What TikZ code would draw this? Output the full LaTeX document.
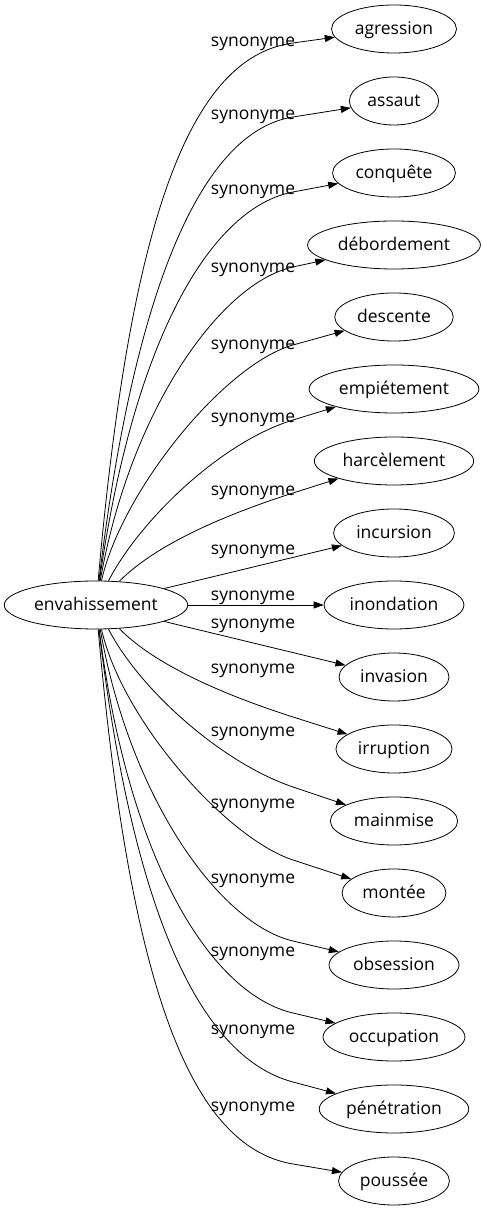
\documentclass[tikz,border=0pt]{standalone}
\usepackage{fontspec}
\setmainfont{Open Sans}
\usetikzlibrary{arrows.meta,shapes.geometric}

\begin{document}
\begin{tikzpicture}[
            x=1pt, y=1pt,
            font=\fontsize{17.5}{20}\selectfont,
            word/.style={draw, ellipse, inner xsep=5pt, inner ysep=0pt,
                minimum height=48pt, line width=0.8pt,
                execute at begin node={\rule[-4pt]{0pt}{20pt}}},
            tag/.style={anchor=base, inner sep=0pt},
            syn/.style={draw, line width=0.8pt, -{Triangle[length=10pt,width=7pt]}}]
            \useasboundingbox (0,0) rectangle (482,1211);
            % nodes
            \node[word, inner xsep=3pt] (env) at (96,606) {envahissement};
            \node[word] (agression) at (394,1182) {agression};
            \node[word] (assaut) at (394,1110) {assaut};
            \node[word] (conquete) at (394,1038) {conquête};
            \node[word] (debordement) at (394,966) {débordement};
            \node[word] (descente) at (394,894) {descente};
            \node[word] (empietement) at (394,822) {empiétement};
            \node[word] (harcelement) at (394,750) {harcèlement};
            \node[word] (incursion) at (394,678) {incursion};
            \node[word] (inondation) at (394,606) {inondation};
            \node[word] (invasion) at (394,534) {invasion};
            \node[word] (irruption) at (394,462) {irruption};
            \node[word] (mainmise) at (394,390) {mainmise};
            \node[word] (montee) at (394,318) {montée};
            \node[word] (obsession) at (394,246) {obsession};
            \node[word] (occupation) at (394,174) {occupation};
            \node[word] (penetration) at (394,102) {pénétration};
            \node[word] (poussee) at (394,30) {poussée};
            % labels
            \node[tag] (s1) at (253,1164) {synonyme};
            \node[tag] (s2) at (253,1091) {synonyme};
            \node[tag] (s3) at (253,1016) {synonyme};
            \node[tag] (s4) at (253,938) {synonyme};
            \node[tag] (s5) at (253,861) {synonyme};
            \node[tag] (s6) at (253,788) {synonyme};
            \node[tag] (s7) at (253,715) {synonyme};
            \node[tag] (s8) at (253,656) {synonyme};
            \node[tag] (s9) at (253,610) {synonyme};
            \node[tag] (s10) at (253,582) {synonyme};
            \node[tag] (s11) at (253,537) {synonyme};
            \node[tag] (s12) at (253,474) {synonyme};
            \node[tag] (s13) at (253,402) {synonyme};
            \node[tag] (s14) at (253,327) {synonyme};
            \node[tag] (s15) at (253,254) {synonyme};
            \node[tag] (s16) at (253,176) {synonyme};
            \node[tag] (s17) at (253,99) {synonyme};
            % edges
            \draw[syn] (env) .. controls (130,990) and (189,1154) .. (293,1168) -- (agression);
            \draw[syn] (env) .. controls (135,930) and (204,1080) .. (293,1094) -- (assaut);
            \draw[syn] (env) .. controls (135,880) and (214,1004) .. (293,1019) -- (conquete);
            \draw[syn] (env) .. controls (130,800) and (220,928) .. (293,944) -- (debordement);
            \draw[syn] (env) .. controls (122,721) and (225,847) .. (293,866) -- (descente);
            \draw[syn] (env) .. controls (140,691) and (221,769) .. (293,791) -- (empietement);
            \draw[syn] (env) .. controls (160,671) and (240,701) .. (293,718) -- (harcelement);
            \draw[syn] (env) -- (incursion);
            \draw[syn] (env) -- (inondation);
            \draw[syn] (env) -- (invasion);
            \draw[syn] (env) .. controls (160,541) and (240,511) .. (293,494) -- (irruption);
            \draw[syn] (env) .. controls (140,521) and (222,448) .. (293,424) -- (mainmise);
            \draw[syn] (env) .. controls (122,491) and (226,373) .. (293,351) -- (montee);
            \draw[syn] (env) .. controls (130,412) and (220,287) .. (293,270) -- (obsession);
            \draw[syn] (env) .. controls (130,340) and (215,216) .. (293,198) -- (occupation);
            \draw[syn] (env) .. controls (135,282) and (206,152) .. (293,129) -- (penetration);
            \draw[syn] (env) .. controls (130,222) and (191,64) .. (293,47) -- (poussee);
        \end{tikzpicture}
\end{document}
